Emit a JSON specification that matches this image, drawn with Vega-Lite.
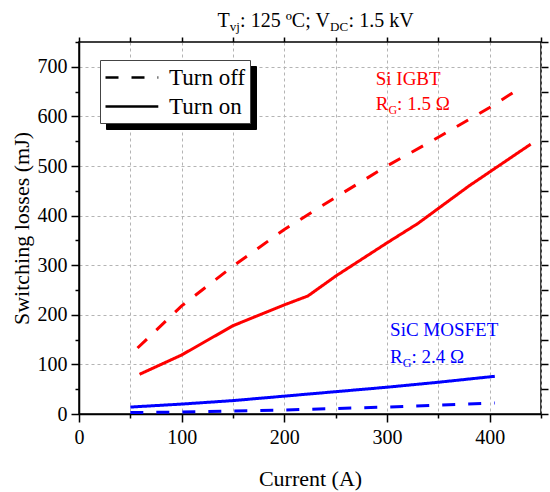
{
  "$schema": "https://vega.github.io/schema/vega-lite/v6.json",
  "width": 462,
  "height": 372,
  "autosize": {"type": "none"},
  "padding": {"left": 79, "top": 42, "right": 9, "bottom": 78},
  "background": "white",
  "config": {
    "view": {"stroke": "black", "strokeWidth": 1.5},
    "font": "Liberation Serif",
    "axis": {
      "labelFont": "Liberation Serif",
      "titleFont": "Liberation Serif",
      "labelColor": "black",
      "titleColor": "black",
      "labelFontSize": 20,
      "titleFontSize": 22,
      "titleFontWeight": "normal",
      "domainColor": "black",
      "domainWidth": 1.5,
      "tickColor": "black",
      "tickWidth": 1.5,
      "gridColor": "#b4b4b4",
      "gridDash": [3, 3],
      "gridWidth": 1,
      "labelFlush": false
    }
  },
  "data": {
    "values": [
      {"Device": "Si IGBT", "Type": "Turn off", "Current": 57, "Loss": 133},
      {"Device": "Si IGBT", "Type": "Turn off", "Current": 100, "Loss": 218},
      {"Device": "Si IGBT", "Type": "Turn off", "Current": 150, "Loss": 298},
      {"Device": "Si IGBT", "Type": "Turn off", "Current": 200, "Loss": 372},
      {"Device": "Si IGBT", "Type": "Turn off", "Current": 250, "Loss": 437},
      {"Device": "Si IGBT", "Type": "Turn off", "Current": 300, "Loss": 500},
      {"Device": "Si IGBT", "Type": "Turn off", "Current": 350, "Loss": 558},
      {"Device": "Si IGBT", "Type": "Turn off", "Current": 400, "Loss": 618},
      {"Device": "Si IGBT", "Type": "Turn off", "Current": 432, "Loss": 660},
      {"Device": "Si IGBT", "Type": "Turn on", "Current": 59, "Loss": 80},
      {"Device": "Si IGBT", "Type": "Turn on", "Current": 100, "Loss": 119},
      {"Device": "Si IGBT", "Type": "Turn on", "Current": 150, "Loss": 178},
      {"Device": "Si IGBT", "Type": "Turn on", "Current": 200, "Loss": 220},
      {"Device": "Si IGBT", "Type": "Turn on", "Current": 223, "Loss": 238},
      {"Device": "Si IGBT", "Type": "Turn on", "Current": 250, "Loss": 278},
      {"Device": "Si IGBT", "Type": "Turn on", "Current": 300, "Loss": 345},
      {"Device": "Si IGBT", "Type": "Turn on", "Current": 330, "Loss": 384},
      {"Device": "Si IGBT", "Type": "Turn on", "Current": 380, "Loss": 460},
      {"Device": "Si IGBT", "Type": "Turn on", "Current": 400, "Loss": 488},
      {"Device": "Si IGBT", "Type": "Turn on", "Current": 440, "Loss": 544},
      {"Device": "SiC MOSFET", "Type": "Turn on", "Current": 50, "Loss": 14},
      {"Device": "SiC MOSFET", "Type": "Turn on", "Current": 100, "Loss": 20},
      {"Device": "SiC MOSFET", "Type": "Turn on", "Current": 150, "Loss": 27},
      {"Device": "SiC MOSFET", "Type": "Turn on", "Current": 200, "Loss": 36},
      {"Device": "SiC MOSFET", "Type": "Turn on", "Current": 250, "Loss": 45},
      {"Device": "SiC MOSFET", "Type": "Turn on", "Current": 300, "Loss": 54},
      {"Device": "SiC MOSFET", "Type": "Turn on", "Current": 350, "Loss": 64},
      {"Device": "SiC MOSFET", "Type": "Turn on", "Current": 405, "Loss": 76},
      {"Device": "SiC MOSFET", "Type": "Turn off", "Current": 50, "Loss": 3},
      {"Device": "SiC MOSFET", "Type": "Turn off", "Current": 100, "Loss": 4},
      {"Device": "SiC MOSFET", "Type": "Turn off", "Current": 150, "Loss": 6},
      {"Device": "SiC MOSFET", "Type": "Turn off", "Current": 200, "Loss": 8},
      {"Device": "SiC MOSFET", "Type": "Turn off", "Current": 250, "Loss": 11},
      {"Device": "SiC MOSFET", "Type": "Turn off", "Current": 300, "Loss": 14},
      {"Device": "SiC MOSFET", "Type": "Turn off", "Current": 350, "Loss": 18},
      {"Device": "SiC MOSFET", "Type": "Turn off", "Current": 405, "Loss": 22}
    ]
  },
  "resolve": {"axis": {"x": "independent", "y": "independent"}},
  "layer": [
    {
      "mark": {"type": "point", "opacity": 0},
      "encoding": {
        "x": {"field": "Current", "type": "quantitative", "scale": {"domain": [0, 450], "nice": false},
          "axis": {"orient": "bottom", "values": [50, 150, 250, 350, 450], "tickSize": 4, "labels": false, "domain": false, "grid": true, "title": null}},
        "y": {"field": "Loss", "type": "quantitative", "scale": {"domain": [0, 750], "nice": false},
          "axis": {"orient": "right", "values": [0, 50, 100, 150, 200, 250, 300, 350, 400, 450, 500, 550, 600, 650, 700, 750], "tickSize": 7, "labels": false, "domain": false, "grid": false, "title": null}}
      }
    },
    {
      "mark": {"type": "point", "opacity": 0},
      "encoding": {
        "x": {"field": "Current", "type": "quantitative", "scale": {"domain": [0, 450], "nice": false},
          "axis": {"orient": "top", "values": [0, 50, 100, 150, 200, 250, 300, 350, 400, 450], "tickSize": 5, "labels": false, "domain": false, "grid": false, "title": null}},
        "y": {"field": "Loss", "type": "quantitative", "scale": {"domain": [0, 750], "nice": false},
          "axis": {"orient": "left", "values": [50, 150, 250, 350, 450, 550, 650, 750], "tickSize": 4, "labels": false, "domain": false, "grid": false, "title": null}}
      }
    },
    {
      "mark": {"type": "line", "strokeWidth": 3},
      "encoding": {
        "x": {"field": "Current", "type": "quantitative", "scale": {"domain": [0, 450], "nice": false},
          "axis": {"orient": "bottom", "title": "Current (A)", "values": [0, 100, 200, 300, 400], "tickSize": 8, "labelPadding": 5, "titlePadding": 21, "grid": true}},
        "y": {"field": "Loss", "type": "quantitative", "scale": {"domain": [0, 750], "nice": false},
          "axis": {"orient": "left", "title": "Switching losses (mJ)", "values": [0, 100, 200, 300, 400, 500, 600, 700], "tickSize": 8, "labelPadding": 4, "titlePadding": 4, "grid": true}},
        "color": {"field": "Device", "type": "nominal", "scale": {"domain": ["Si IGBT", "SiC MOSFET"], "range": ["#ff0000", "#0000ff"]}, "legend": null},
        "strokeDash": {"field": "Type", "type": "nominal", "scale": {"range": [[13, 13], [1, 0]]},
          "legend": {"orient": "none", "legendX": 21, "legendY": 18, "title": null, "symbolType": "M-1,0H3.4", "symbolSize": 576, "symbolStrokeWidth": 2.5, "symbolStrokeColor": "black", "labelFont": "Liberation Serif", "labelFontSize": 23, "labelColor": "black", "labelOffset": 38, "fillColor": "white", "strokeColor": "#444444", "padding": 4, "rowPadding": 3, "zindex": 2,
            "encode": {"symbols": {"update": {"stroke": {"value": "black"}, "opacity": {"value": 1}}}}}},
        "opacity": {"field": "Type", "type": "nominal", "scale": {"domain": ["Turn off", "Turn on"], "range": [1, 1]},
          "legend": {"orient": "none", "legendX": 27, "legendY": 24, "title": null, "symbolType": "M-1,0H3.4", "symbolSize": 576, "symbolStrokeWidth": 2.5, "symbolStrokeColor": "black", "labelFontSize": 23, "labelExpr": "''", "labelOffset": 115, "fillColor": "black", "strokeColor": "black", "padding": 4, "rowPadding": 3, "zindex": 1}}
      }
    },
    {
      "data": {"values": [{}]},
      "mark": {"type": "text", "align": "left", "baseline": "alphabetic", "fontSize": 20, "dy": -15, "color": "black"},
      "encoding": {"x": {"datum": 135, "scale": {"domain": [0, 450], "nice": false}, "axis": null}, "y": {"datum": 750, "scale": {"domain": [0, 750], "nice": false}, "axis": null}, "text": {"value": "T"}}
    },
    {
      "data": {"values": [{}]},
      "mark": {"type": "text", "align": "left", "baseline": "alphabetic", "fontSize": 13, "dx": 12.2, "dy": -11, "color": "black"},
      "encoding": {"x": {"datum": 135, "scale": {"domain": [0, 450], "nice": false}, "axis": null}, "y": {"datum": 750, "scale": {"domain": [0, 750], "nice": false}, "axis": null}, "text": {"value": "vj"}}
    },
    {
      "data": {"values": [{}]},
      "mark": {"type": "text", "align": "left", "baseline": "alphabetic", "fontSize": 20, "dx": 22.5, "dy": -15, "color": "black"},
      "encoding": {"x": {"datum": 135, "scale": {"domain": [0, 450], "nice": false}, "axis": null}, "y": {"datum": 750, "scale": {"domain": [0, 750], "nice": false}, "axis": null}, "text": {"value": ": 125 ºC; V"}}
    },
    {
      "data": {"values": [{}]},
      "mark": {"type": "text", "align": "left", "baseline": "alphabetic", "fontSize": 13, "dx": 112.5, "dy": -11, "color": "black"},
      "encoding": {"x": {"datum": 135, "scale": {"domain": [0, 450], "nice": false}, "axis": null}, "y": {"datum": 750, "scale": {"domain": [0, 750], "nice": false}, "axis": null}, "text": {"value": "DC"}}
    },
    {
      "data": {"values": [{}]},
      "mark": {"type": "text", "align": "left", "baseline": "alphabetic", "fontSize": 20, "dx": 131, "dy": -15, "color": "black"},
      "encoding": {"x": {"datum": 135, "scale": {"domain": [0, 450], "nice": false}, "axis": null}, "y": {"datum": 750, "scale": {"domain": [0, 750], "nice": false}, "axis": null}, "text": {"value": ": 1.5 kV"}}
    },
    {
      "data": {"values": [{}]},
      "mark": {"type": "text", "align": "left", "baseline": "alphabetic", "fontSize": 19, "color": "#ff0000"},
      "encoding": {"x": {"datum": 289, "scale": {"domain": [0, 450], "nice": false}, "axis": null}, "y": {"datum": 663, "scale": {"domain": [0, 750], "nice": false}, "axis": null}, "text": {"value": "Si IGBT"}}
    },
    {
      "data": {"values": [{}]},
      "mark": {"type": "text", "align": "left", "baseline": "alphabetic", "fontSize": 19, "color": "#ff0000"},
      "encoding": {"x": {"datum": 289, "scale": {"domain": [0, 450], "nice": false}, "axis": null}, "y": {"datum": 613, "scale": {"domain": [0, 750], "nice": false}, "axis": null}, "text": {"value": "R"}}
    },
    {
      "data": {"values": [{}]},
      "mark": {"type": "text", "align": "left", "baseline": "alphabetic", "fontSize": 12, "dx": 12.7, "dy": 4, "color": "#ff0000"},
      "encoding": {"x": {"datum": 289, "scale": {"domain": [0, 450], "nice": false}, "axis": null}, "y": {"datum": 613, "scale": {"domain": [0, 750], "nice": false}, "axis": null}, "text": {"value": "G"}}
    },
    {
      "data": {"values": [{}]},
      "mark": {"type": "text", "align": "left", "baseline": "alphabetic", "fontSize": 19, "dx": 21.4, "color": "#ff0000"},
      "encoding": {"x": {"datum": 289, "scale": {"domain": [0, 450], "nice": false}, "axis": null}, "y": {"datum": 613, "scale": {"domain": [0, 750], "nice": false}, "axis": null}, "text": {"value": ": 1.5 Ω"}}
    },
    {
      "data": {"values": [{}]},
      "mark": {"type": "text", "align": "left", "baseline": "alphabetic", "fontSize": 19, "color": "#0000ff"},
      "encoding": {"x": {"datum": 303, "scale": {"domain": [0, 450], "nice": false}, "axis": null}, "y": {"datum": 157, "scale": {"domain": [0, 750], "nice": false}, "axis": null}, "text": {"value": "SiC MOSFET"}}
    },
    {
      "data": {"values": [{}]},
      "mark": {"type": "text", "align": "left", "baseline": "alphabetic", "fontSize": 19, "color": "#0000ff"},
      "encoding": {"x": {"datum": 303, "scale": {"domain": [0, 450], "nice": false}, "axis": null}, "y": {"datum": 102, "scale": {"domain": [0, 750], "nice": false}, "axis": null}, "text": {"value": "R"}}
    },
    {
      "data": {"values": [{}]},
      "mark": {"type": "text", "align": "left", "baseline": "alphabetic", "fontSize": 12, "dx": 12.7, "dy": 4, "color": "#0000ff"},
      "encoding": {"x": {"datum": 303, "scale": {"domain": [0, 450], "nice": false}, "axis": null}, "y": {"datum": 102, "scale": {"domain": [0, 750], "nice": false}, "axis": null}, "text": {"value": "G"}}
    },
    {
      "data": {"values": [{}]},
      "mark": {"type": "text", "align": "left", "baseline": "alphabetic", "fontSize": 19, "dx": 21.4, "color": "#0000ff"},
      "encoding": {"x": {"datum": 303, "scale": {"domain": [0, 450], "nice": false}, "axis": null}, "y": {"datum": 102, "scale": {"domain": [0, 750], "nice": false}, "axis": null}, "text": {"value": ": 2.4 Ω"}}
    }
  ]
}
